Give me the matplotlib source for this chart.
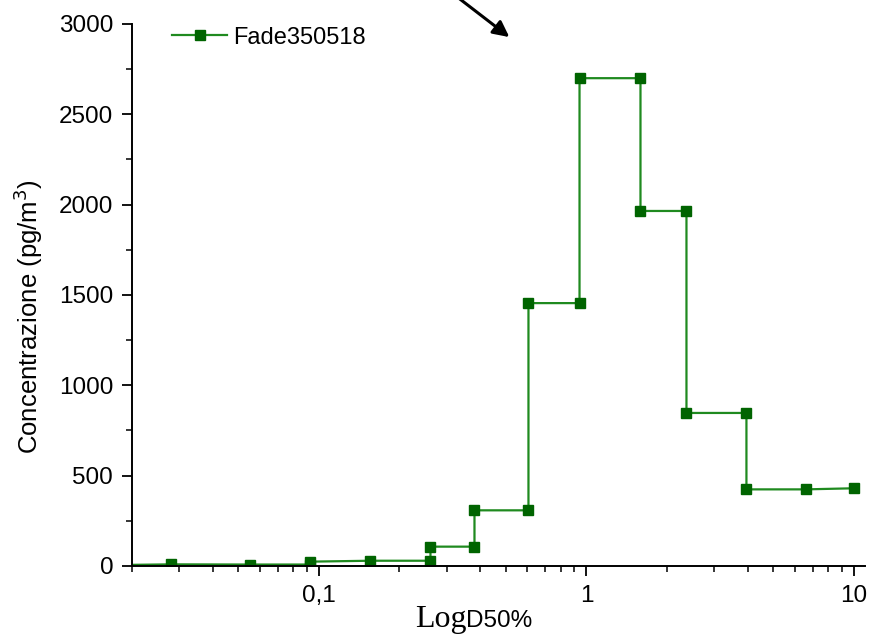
import matplotlib
matplotlib.use("Agg")
import matplotlib.pyplot as plt
from matplotlib.patches import FancyArrowPatch
from matplotlib.ticker import FixedLocator, LogLocator, NullFormatter, MultipleLocator

plt.rcParams["font.family"] = ["Liberation Sans", "DejaVu Sans"]

# step vertices (diameter um, concentration pg/m3)
diam = [0.017, 0.0281, 0.0550, 0.0929, 0.0929, 0.1558, 0.2611, 0.2611,
        0.3814, 0.3814, 0.607, 0.607, 0.942, 0.942, 1.592, 1.592,
        2.365, 2.365, 3.963, 3.963, 6.59, 9.96]
conc = [5, 9, 8, 8, 24, 29, 29, 107, 107, 308, 308, 1455, 1455, 2700,
        2700, 1965, 1965, 847, 847, 424, 424, 430]
series_name = "Fade350518"
xtick_vals = [0.1, 1, 10]
xtick_lbls = ["0,1", "1", "10"]

fig = plt.figure(figsize=(8.7, 6.36), dpi=100)
ax = fig.add_axes([0.1517, 0.1101, 0.8426, 0.8522])

ax.plot(diam, conc, color="#1f8a1f", linewidth=1.6, marker="s", markersize=7.5,
        markerfacecolor="#006400", markeredgecolor="#006400", label=series_name)

ax.set_xscale("log")
ax.set_xlim(0.02, 11)
ax.set_ylim(0, 3000)

ax.xaxis.set_major_locator(FixedLocator(xtick_vals))
ax.set_xticks(xtick_vals, xtick_lbls)
ax.xaxis.set_minor_locator(LogLocator(base=10, subs=range(2, 10)))
ax.xaxis.set_minor_formatter(NullFormatter())
ax.yaxis.set_major_locator(MultipleLocator(500))
ax.yaxis.set_minor_locator(MultipleLocator(250))

for side in ["top", "right"]:
    ax.spines[side].set_visible(False)
for side in ["left", "bottom"]:
    ax.spines[side].set_linewidth(1.4)

ax.tick_params(which="major", direction="out", length=7.5, width=1.3,
               labelsize=17.5, pad=6)
ax.tick_params(which="minor", direction="out", length=4, width=1.1)

ax.set_ylabel("Concentrazione (pg/m$^3$)", fontsize=18.5)
ax.yaxis.set_label_coords(-0.119, 0.461)

# x label: serif "Log" + sans "D50%", same baseline
fig.text(0.477, 0.014, "Log", family="Liberation Serif", fontsize=23,
         ha="left", va="baseline")
fig.text(0.536, 0.014, "D50%", fontsize=17.5, ha="left", va="baseline")

ax.legend(loc="upper left", bbox_to_anchor=(0.0546, 0.995), frameon=False,
          borderpad=0, borderaxespad=0, fontsize=17, handlelength=2.33,
          handletextpad=0.25)

# arrow at the top, coming in from outside the figure
fig.add_artist(FancyArrowPatch(
    (0.512, 1.019), (0.588, 0.939), transform=fig.transFigure,
    arrowstyle="-|>", mutation_scale=24, linewidth=2.2, color="black"))

fig.savefig("out.png", dpi=100)
